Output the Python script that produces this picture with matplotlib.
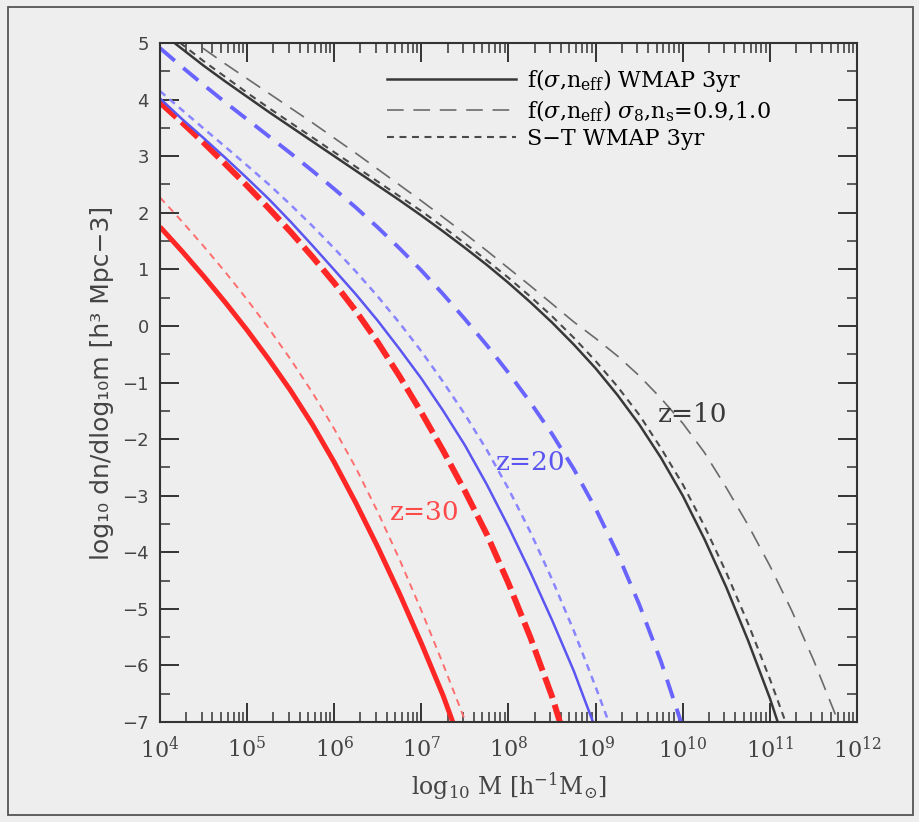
import matplotlib
matplotlib.use("Agg")
import matplotlib.pyplot as plt
from matplotlib.lines import Line2D
from matplotlib.patches import Rectangle
import numpy as np

plt.rcParams["lines.scale_dashes"] = False
plt.rcParams["mathtext.fontset"] = "dejavuserif"
SERIF = "DejaVu Serif"

# ---- mass function curves: log10 M  ->  log10 dn/dlog10 m ----
# z = 30
z30_fit_logm = [4.0, 4.25, 4.5, 4.75, 5.0, 5.25, 5.5, 5.75, 6.0, 6.25, 6.5, 6.75, 7.0, 7.25, 7.36]
z30_fit_logn = [1.75, 1.325, 0.88, 0.415, -0.075, -0.595, -1.145, -1.745, -2.41, -3.135,
                -3.91, -4.735, -5.61, -6.535, -7.0]
z30_st_logm = [4.0, 4.25, 4.5, 4.75, 5.0, 5.25, 5.5, 5.75, 6.0, 6.25, 6.5, 6.75, 7.0, 7.25, 7.5, 7.51]
z30_st_logn = [2.27, 1.85, 1.41, 0.95, 0.465, -0.048, -0.593, -1.18, -1.82, -2.515, -3.29,
               -4.13, -5.03, -5.98, -6.97, -7.0]
z30_s8_logm = [4.0, 4.25, 4.5, 4.75, 5.0, 5.25, 5.5, 5.75, 6.0, 6.25, 6.5, 6.75, 7.0, 7.25,
               7.5, 7.75, 8.0, 8.25, 8.5, 8.59]
z30_s8_logn = [3.95, 3.6, 3.24, 2.86, 2.475, 2.075, 1.66, 1.22, 0.76, 0.26, -0.29, -0.89,
               -1.53, -2.205, -2.92, -3.68, -4.55, -5.5, -6.55, -7.0]

# z = 20
z20_fit_logm = [4.0, 4.25, 4.5, 4.75, 5.0, 5.25, 5.5, 5.75, 6.0, 6.25, 6.5, 6.75, 7.0, 7.25,
                7.5, 7.75, 8.0, 8.25, 8.5, 8.75, 8.97]
z20_fit_logn = [4.02, 3.66, 3.32, 2.97, 2.61, 2.24, 1.84, 1.42, 0.99, 0.555, 0.09, -0.41,
                -0.93, -1.50, -2.11, -2.80, -3.55, -4.35, -5.2, -6.1, -7.0]
z20_st_logm = [4.0, 4.25, 4.5, 4.75, 5.0, 5.25, 5.5, 5.75, 6.0, 6.25, 6.5, 6.75, 7.0, 7.25,
               7.5, 7.75, 8.0, 8.25, 8.5, 8.75, 9.0, 9.15]
z20_st_logn = [4.15, 3.82, 3.49, 3.165, 2.835, 2.5, 2.14, 1.765, 1.37, 0.958, 0.52, 0.05,
               -0.45, -0.99, -1.565, -2.19, -2.88, -3.64, -4.48, -5.39, -6.38, -7.0]
z20_s8_logm = [4.0, 4.25, 4.5, 4.75, 5.0, 5.25, 5.5, 5.75, 6.0, 6.25, 6.5, 6.75, 7.0, 7.25,
               7.5, 7.75, 8.0, 8.25, 8.5, 8.75, 9.0, 9.25, 9.5, 9.75, 9.98]
z20_s8_logn = [4.91, 4.58, 4.26, 3.95, 3.65, 3.35, 3.05, 2.74, 2.42, 2.09, 1.74, 1.37, 0.98,
               0.56, 0.12, -0.34, -0.83, -1.35, -1.91, -2.53, -3.23, -4.02, -4.92, -5.93, -7.0]

# z = 10
z10_fit_logm = [4.0, 4.25, 4.5, 4.75, 5.0, 5.25, 5.5, 5.75, 6.0, 6.25, 6.5, 6.75, 7.0, 7.25,
                7.5, 7.75, 8.0, 8.25, 8.5, 8.75, 9.0, 9.25, 9.5, 9.75, 10.0, 10.25, 10.5,
                10.75, 11.0, 11.09]
z10_fit_logn = [5.2, 4.9, 4.6, 4.32, 4.05, 3.78, 3.52, 3.26, 3.0, 2.74, 2.48, 2.22, 1.95, 1.67,
                1.38, 1.08, 0.76, 0.42, 0.06, -0.33, -0.75, -1.22, -1.74, -2.33, -3.0, -3.77,
                -4.62, -5.56, -6.58, -7.0]
z10_st_logm = [4.0, 4.25, 4.5, 4.75, 5.0, 5.25, 5.5, 5.75, 6.0, 6.25, 6.5, 6.75, 7.0, 7.25,
               7.5, 7.75, 8.0, 8.25, 8.5, 8.75, 9.0, 9.25, 9.5, 9.75, 10.0, 10.25, 10.5,
               10.75, 11.0, 11.18]
z10_st_logn = [5.28, 4.98, 4.68, 4.40, 4.12, 3.85, 3.59, 3.33, 3.07, 2.81, 2.55, 2.29, 2.03,
               1.75, 1.46, 1.16, 0.85, 0.52, 0.17, -0.21, -0.62, -1.07, -1.57, -2.16, -2.80,
               -3.54, -4.36, -5.26, -6.24, -7.0]
z10_s8_logm = [4.0, 4.25, 4.5, 4.75, 5.0, 5.25, 5.5, 5.75, 6.0, 6.25, 6.5, 6.75, 7.0, 7.25,
               7.5, 7.75, 8.0, 8.25, 8.5, 8.75, 9.0, 9.25, 9.5, 9.75, 10.0, 10.25, 10.5,
               10.75, 11.0, 11.25, 11.5, 11.75, 11.79]
z10_s8_logn = [5.45, 5.17, 4.9, 4.63, 4.37, 4.11, 3.85, 3.59, 3.32, 3.05, 2.77, 2.49, 2.21,
               1.92, 1.63, 1.33, 1.02, 0.71, 0.39, 0.07, -0.22, -0.53, -0.88, -1.28, -1.72,
               -2.24, -2.86, -3.52, -4.24, -5.03, -5.9, -6.86, -7.0]

legend_labels = [
    r"f($\sigma$,n$_{\rm eff}$) WMAP 3yr",
    r"f($\sigma$,n$_{\rm eff}$) $\sigma_{\rm 8}$,n$_{\rm s}$=0.9,1.0",
    "S\u2212T WMAP 3yr",
]
x_ticks_exp = [4, 5, 6, 7, 8, 9, 10, 11, 12]
y_ticks = [5, 4, 3, 2, 1, 0, -1, -2, -3, -4, -5, -6, -7]

RED, RED_L = "#ff2626", "#ff6e6e"
BLUE, BLUE_D, BLUE_L = "#5b55f2", "#6a64ff", "#8a86ff"
BLK, BLK_D, BLK_L = "#383838", "#4a4a4a", "#6a6a6a"
BG = "#eeeeee"

fig = plt.figure(figsize=(9.2, 8.22), dpi=100, facecolor=BG)
ax = fig.add_axes([160 / 920, 100 / 822, 697 / 920, 679 / 822], facecolor=BG)

# outer frame
fig.patches.append(Rectangle((8 / 920, 7 / 822), 905 / 920, 808 / 822,
                             transform=fig.transFigure, fill=False,
                             edgecolor="#555555", lw=1.3))


def curve(logm, logn, **kw):
    ax.plot(10 ** np.asarray(logm), logn, solid_capstyle="butt",
            dash_capstyle="butt", **kw)


SOLID = "-"
LONG = (0, (12, 7))
SHORT = (0, (5, 4))

# z = 10
curve(z10_s8_logm, z10_s8_logn, color=BLK_L, lw=1.2, ls=LONG)
curve(z10_st_logm, z10_st_logn, color=BLK_D, lw=1.5, ls=SHORT)
curve(z10_fit_logm, z10_fit_logn, color=BLK, lw=1.8, ls=SOLID)
# z = 20
curve(z20_s8_logm, z20_s8_logn, color=BLUE_D, lw=2.8, ls=(0, (14, 8)))
curve(z20_st_logm, z20_st_logn, color=BLUE_L, lw=1.8, ls=SHORT)
# z = 30
curve(z30_s8_logm, z30_s8_logn, color=RED, lw=4.3, ls=(0, (16, 5)))
curve(z20_fit_logm, z20_fit_logn, color=BLUE, lw=1.8, ls=SOLID)
curve(z30_st_logm, z30_st_logn, color=RED_L, lw=1.4, ls=SHORT)
curve(z30_fit_logm, z30_fit_logn, color=RED, lw=3.6, ls=SOLID)

ax.set_xscale("log")
ax.set_xlim(1e4, 1e12)
ax.set_ylim(-7, 5)

ax.set_xticks([10.0 ** e for e in x_ticks_exp])
ax.set_xticklabels([r"$10^{%d}$" % e for e in x_ticks_exp])
ax.xaxis.set_minor_locator(matplotlib.ticker.LogLocator(base=10, subs=np.arange(2, 10)))
ax.xaxis.set_minor_formatter(matplotlib.ticker.NullFormatter())
ax.set_yticks(y_ticks)
ax.set_yticklabels([("\u2212%d" % -v) if v < 0 else str(v) for v in y_ticks])
ax.yaxis.set_minor_locator(matplotlib.ticker.MultipleLocator(0.5))

ax.tick_params(which="both", direction="in", top=True, right=True,
               colors="#333333", labelcolor="#444444")
ax.tick_params(which="major", length=14, width=1.4)
ax.tick_params(which="minor", length=7, width=1.1)
ax.tick_params(axis="x", labelsize=16, pad=10)
ax.tick_params(axis="y", labelsize=13, pad=8)
for lab in ax.get_yticklabels():
    lab.set_family("DejaVu Sans")
for s in ax.spines.values():
    s.set_color("#333333")
    s.set_linewidth(1.5)

ax.set_xlabel(r"log$_{10}$ M [h$^{-1}$M$_{\odot}$]", fontsize=17,
              family=SERIF, color="#444444", labelpad=6)
ax.set_ylabel("log\u2081\u2080 dn/dlog\u2081\u2080m [h\u00b3 Mpc\u22123]",
              fontsize=18, family="DejaVu Sans", color="#444444", labelpad=6)

# legend (black line styles)
handles = [
    Line2D([], [], color=BLK, lw=1.8, ls=SOLID),
    Line2D([], [], color=BLK_L, lw=1.2, ls=LONG),
    Line2D([], [], color=BLK_D, lw=1.5, ls=SHORT),
]
ax.legend(handles, legend_labels, loc="upper left",
          bbox_to_anchor=((387 - 160) / 697, (722 - 67) / 679),
          frameon=False, handlelength=5.8, handletextpad=0.5,
          labelspacing=0.2, borderpad=0, borderaxespad=0,
          prop={"family": SERIF, "size": 16})

# redshift labels
ax.text(10 ** 7.04, -3.30, "z=30", color="#ff4a4a", fontsize=19,
        ha="center", va="center", family=SERIF)
ax.text(10 ** 8.26, -2.42, "z=20", color="#5a55f0", fontsize=19,
        ha="center", va="center", family=SERIF)
ax.text(10 ** 10.11, -1.57, "z=10", color="#3a3a3a", fontsize=19,
        ha="center", va="center", family=SERIF)

fig.savefig("out.png", dpi=100, facecolor=BG)
